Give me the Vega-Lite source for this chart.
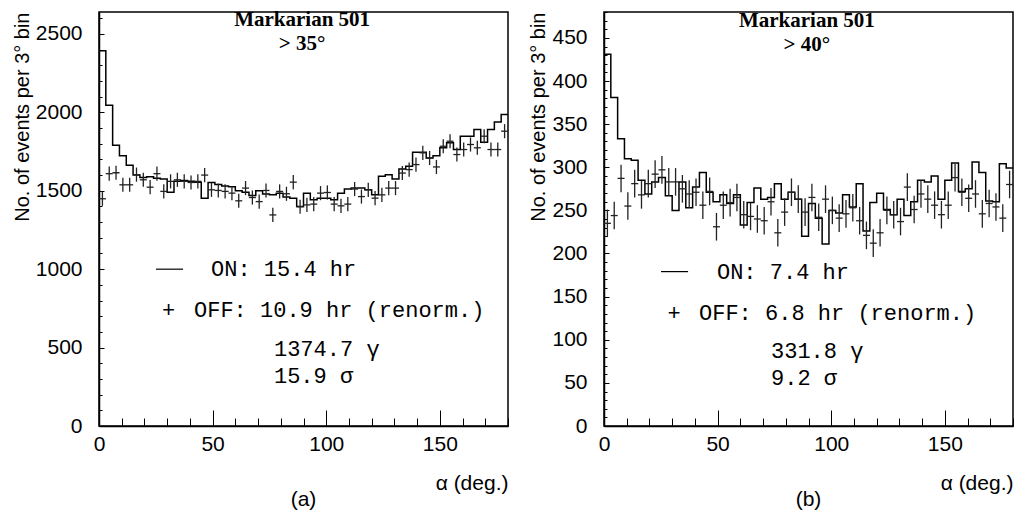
{
  "$schema": "https://vega.github.io/schema/vega-lite/v6.json",
  "background": "white",
  "padding": {"left": 11, "top": 0, "right": 0, "bottom": 0},
  "spacing": 16,
  "datasets": {
    "onA": [
      {"a":0,"v":2393},{"a":3,"v":2045},{"a":6,"v":1790},{"a":9,"v":1724},{"a":12,"v":1662},{"a":15,"v":1600},{"a":18,"v":1585},{"a":21,"v":1590},{"a":24,"v":1580},{"a":27,"v":1575},
      {"a":30,"v":1490},{"a":33,"v":1560},{"a":36,"v":1565},{"a":39,"v":1560},{"a":42,"v":1555},{"a":45,"v":1453},{"a":48,"v":1553},{"a":51,"v":1540},{"a":54,"v":1530},{"a":57,"v":1525},
      {"a":60,"v":1500},{"a":63,"v":1490},{"a":66,"v":1470},{"a":69,"v":1500},{"a":72,"v":1480},{"a":75,"v":1475},{"a":78,"v":1485},{"a":81,"v":1460},{"a":84,"v":1453},{"a":87,"v":1400},
      {"a":90,"v":1485},{"a":93,"v":1442},{"a":96,"v":1453},{"a":99,"v":1453},{"a":102,"v":1442},{"a":105,"v":1485},{"a":108,"v":1511},{"a":111,"v":1517},{"a":114,"v":1517},{"a":117,"v":1506},
      {"a":120,"v":1474},{"a":123,"v":1592},{"a":126,"v":1602},{"a":129,"v":1575},{"a":132,"v":1639},{"a":135,"v":1656},{"a":138,"v":1746},{"a":141,"v":1746},{"a":144,"v":1709},{"a":147,"v":1724},
      {"a":150,"v":1774},{"a":153,"v":1806},{"a":156,"v":1763},{"a":159,"v":1848},{"a":162,"v":1848},{"a":165,"v":1891},{"a":168,"v":1810},{"a":171,"v":1891},{"a":174,"v":1938},{"a":177,"v":1987},
      {"a":180,"v":1987}
    ],
    "offA": [
      {"a":1.5,"v":1449,"e":45},{"a":4.5,"v":1609,"e":45},{"a":7.5,"v":1615,"e":45},{"a":10.5,"v":1538,"e":45},{"a":13.5,"v":1538,"e":45},{"a":16.5,"v":1603,"e":45},{"a":19.5,"v":1570,"e":45},{"a":22.5,"v":1523,"e":45},{"a":25.5,"v":1609,"e":45},{"a":28.5,"v":1496,"e":45},
      {"a":31.5,"v":1560,"e":45},{"a":34.5,"v":1570,"e":45},{"a":37.5,"v":1560,"e":45},{"a":40.5,"v":1553,"e":45},{"a":43.5,"v":1560,"e":45},{"a":46.5,"v":1600,"e":45},{"a":49.5,"v":1506,"e":45},{"a":52.5,"v":1502,"e":45},{"a":55.5,"v":1496,"e":45},{"a":58.5,"v":1485,"e":45},
      {"a":61.5,"v":1436,"e":45},{"a":64.5,"v":1517,"e":45},{"a":67.5,"v":1457,"e":45},{"a":70.5,"v":1431,"e":45},{"a":73.5,"v":1502,"e":45},{"a":76.5,"v":1346,"e":45},{"a":79.5,"v":1496,"e":45},{"a":82.5,"v":1481,"e":45},{"a":85.5,"v":1555,"e":45},{"a":88.5,"v":1398,"e":45},
      {"a":91.5,"v":1410,"e":45},{"a":94.5,"v":1415,"e":45},{"a":97.5,"v":1485,"e":45},{"a":100.5,"v":1489,"e":45},{"a":103.5,"v":1415,"e":45},{"a":106.5,"v":1404,"e":45},{"a":109.5,"v":1415,"e":45},{"a":112.5,"v":1511,"e":45},{"a":115.5,"v":1463,"e":45},{"a":118.5,"v":1506,"e":45},
      {"a":121.5,"v":1453,"e":45},{"a":124.5,"v":1474,"e":45},{"a":127.5,"v":1517,"e":45},{"a":130.5,"v":1517,"e":45},{"a":133.5,"v":1613,"e":45},{"a":136.5,"v":1635,"e":45},{"a":139.5,"v":1667,"e":45},{"a":142.5,"v":1742,"e":45},{"a":145.5,"v":1709,"e":45},{"a":148.5,"v":1652,"e":45},
      {"a":151.5,"v":1784,"e":45},{"a":154.5,"v":1816,"e":45},{"a":157.5,"v":1731,"e":45},{"a":160.5,"v":1763,"e":45},{"a":163.5,"v":1795,"e":45},{"a":166.5,"v":1774,"e":45},{"a":169.5,"v":1848,"e":45},{"a":172.5,"v":1763,"e":45},{"a":175.5,"v":1763,"e":45},{"a":178.5,"v":1880,"e":45}
    ],
    "onB": [
      {"a":0,"v":431},{"a":3,"v":381},{"a":6,"v":333},{"a":9,"v":310},{"a":12,"v":308},{"a":15,"v":285},{"a":18,"v":269},{"a":21,"v":283},{"a":24,"v":288},{"a":27,"v":267},
      {"a":30,"v":250},{"a":33,"v":283},{"a":36,"v":253},{"a":39,"v":277},{"a":42,"v":294},{"a":45,"v":271},{"a":48,"v":260},{"a":51,"v":268},{"a":54,"v":258},{"a":57,"v":268},
      {"a":60,"v":233},{"a":63,"v":259},{"a":66,"v":276},{"a":69,"v":263},{"a":72,"v":265},{"a":75,"v":281},{"a":78,"v":263},{"a":81,"v":271},{"a":84,"v":263},{"a":87,"v":220},
      {"a":90,"v":258},{"a":93,"v":241},{"a":96,"v":211},{"a":99,"v":250},{"a":102,"v":247},{"a":105,"v":268},{"a":108,"v":254},{"a":111,"v":281},{"a":114,"v":226},{"a":117,"v":259},
      {"a":120,"v":270},{"a":123,"v":251},{"a":126,"v":245},{"a":129,"v":263},{"a":132,"v":244},{"a":135,"v":260},{"a":138,"v":285},{"a":141,"v":283},{"a":144,"v":290},{"a":147,"v":263},
      {"a":150,"v":285},{"a":153,"v":305},{"a":156,"v":272},{"a":159,"v":275},{"a":162,"v":306},{"a":165,"v":294},{"a":168,"v":261},{"a":171,"v":260},{"a":174,"v":304},{"a":177,"v":299},
      {"a":180,"v":299}
    ],
    "offB": [
      {"a":1.5,"v":235,"e":16},{"a":4.5,"v":244,"e":16},{"a":7.5,"v":287,"e":16},{"a":10.5,"v":255,"e":16},{"a":13.5,"v":281,"e":16},{"a":16.5,"v":268,"e":16},{"a":19.5,"v":281,"e":16},{"a":22.5,"v":292,"e":16},{"a":25.5,"v":297,"e":16},{"a":28.5,"v":283,"e":16},
      {"a":31.5,"v":283,"e":16},{"a":34.5,"v":275,"e":16},{"a":37.5,"v":269,"e":16},{"a":40.5,"v":271,"e":16},{"a":43.5,"v":256,"e":16},{"a":46.5,"v":272,"e":16},{"a":49.5,"v":231,"e":16},{"a":52.5,"v":256,"e":16},{"a":55.5,"v":259,"e":16},{"a":58.5,"v":265,"e":16},
      {"a":61.5,"v":245,"e":16},{"a":64.5,"v":243,"e":16},{"a":67.5,"v":240,"e":16},{"a":70.5,"v":238,"e":16},{"a":73.5,"v":260,"e":16},{"a":76.5,"v":224,"e":16},{"a":79.5,"v":248,"e":16},{"a":82.5,"v":271,"e":16},{"a":85.5,"v":263,"e":16},{"a":88.5,"v":248,"e":16},
      {"a":91.5,"v":265,"e":16},{"a":94.5,"v":242,"e":16},{"a":97.5,"v":263,"e":16},{"a":100.5,"v":250,"e":16},{"a":103.5,"v":241,"e":16},{"a":106.5,"v":246,"e":16},{"a":109.5,"v":253,"e":16},{"a":112.5,"v":238,"e":16},{"a":115.5,"v":221,"e":16},{"a":118.5,"v":212,"e":16},
      {"a":121.5,"v":224,"e":16},{"a":124.5,"v":250,"e":16},{"a":127.5,"v":245,"e":16},{"a":130.5,"v":237,"e":16},{"a":133.5,"v":277,"e":16},{"a":136.5,"v":251,"e":16},{"a":139.5,"v":269,"e":16},{"a":142.5,"v":263,"e":16},{"a":145.5,"v":256,"e":16},{"a":148.5,"v":245,"e":16},
      {"a":151.5,"v":256,"e":16},{"a":154.5,"v":288,"e":16},{"a":157.5,"v":271,"e":16},{"a":160.5,"v":264,"e":16},{"a":163.5,"v":269,"e":16},{"a":166.5,"v":246,"e":16},{"a":169.5,"v":258,"e":16},{"a":172.5,"v":254,"e":16},{"a":175.5,"v":241,"e":16},{"a":178.5,"v":280,"e":16}
    ]
  },
  "hconcat": [
    {
      "width": 409,
      "height": 414,
      "title": {"text": "(a)", "orient": "bottom", "anchor": "middle", "offset": -4},
      "layer": [
        {
          "data": {"name": "onA"},
          "mark": {"type": "line", "interpolate": "step-after", "color": "black", "strokeWidth": 1.5},
          "encoding": {
            "x": {"field": "a", "type": "quantitative", "title": "α (deg.)", "scale": {"domain": [0, 180], "nice": false},
              "axis": {"values": [0,10,20,30,40,50,60,70,80,90,100,110,120,130,140,150,160,170,180], "tickCount": 1000, "format": "d", "labelOverlap": false,
                "labelExpr": "datum.value % 50 === 0 ? datum.label : ''",
                "tickSize": {"condition": {"test": "datum.value % 50 === 0", "value": -16}, "value": -8},
                "labelPadding": 23, "titlePadding": 10}},
            "y": {"field": "v", "type": "quantitative", "title": "No. of events per 3° bin", "scale": {"domain": [0, 2640], "nice": false},
              "axis": {"values": [0,100,200,300,400,500,600,700,800,900,1000,1100,1200,1300,1400,1500,1600,1700,1800,1900,2000,2100,2200,2300,2400,2500,2600], "tickCount": 1000, "format": "d", "labelOverlap": false,
                "labelExpr": "datum.value % 500 === 0 ? datum.label : ''",
                "tickSize": {"condition": {"test": "datum.value % 500 === 0", "value": -5}, "value": -3},
                "labelPadding": 22, "titlePadding": 3, "titleFontSize": 20}}
          }
        },
        {
          "data": {"name": "offA"},
          "mark": {"type": "tick", "orient": "horizontal", "size": 7, "thickness": 1.3, "color": "#222", "opacity": 1},
          "encoding": {"x": {"field": "a", "type": "quantitative", "title": "α (deg.)"}, "y": {"field": "v", "type": "quantitative", "title": "No. of events per 3° bin"}}
        },
        {
          "data": {"name": "offA"},
          "mark": {"type": "errorbar", "color": "#222", "thickness": 1.3},
          "encoding": {"x": {"field": "a", "type": "quantitative", "title": "α (deg.)"}, "y": {"field": "v", "type": "quantitative", "title": "No. of events per 3° bin"}, "yError": {"field": "e"}}
        },
        {
          "data": {"values": [{"a": 89.4, "v": 2592, "t": "Markarian 501"}, {"a": 89.4, "v": 2439, "t": "> 35°"}]},
          "mark": {"type": "text", "font": "Liberation Serif", "fontWeight": "bold", "fontSize": 21, "align": "center", "baseline": "middle", "color": "black"},
          "encoding": {"x": {"field": "a", "type": "quantitative", "title": "α (deg.)"}, "y": {"field": "v", "type": "quantitative", "title": "No. of events per 3° bin"}, "text": {"field": "t"}}
        },
        {
          "data": {"values": [{"a": 25.1, "a2": 37.0, "v": 1000}]},
          "mark": {"type": "rule", "color": "black", "strokeWidth": 1.2},
          "encoding": {"x": {"field": "a", "type": "quantitative", "title": "α (deg.)"}, "x2": {"field": "a2"}, "y": {"field": "v", "type": "quantitative", "title": "No. of events per 3° bin"}}
        },
        {
          "data": {"values": [{"a": 30.6, "v": 738, "t": "+"}]},
          "mark": {"type": "text", "font": "Liberation Mono", "fontSize": 22, "align": "center", "baseline": "middle", "color": "black"},
          "encoding": {"x": {"field": "a", "type": "quantitative", "title": "α (deg.)"}, "y": {"field": "v", "type": "quantitative", "title": "No. of events per 3° bin"}, "text": {"field": "t"}}
        },
        {
          "data": {"values": [
            {"a": 49.3, "v": 1000, "t": "ON: 15.4 hr"},
            {"a": 41.8, "v": 738, "t": "OFF: 10.9 hr (renorm.)"},
            {"a": 77.0, "v": 490, "t": "1374.7 γ"},
            {"a": 77.0, "v": 318, "t": "15.9 σ"}
          ]},
          "mark": {"type": "text", "font": "Liberation Mono", "fontSize": 22, "align": "left", "baseline": "middle", "color": "black"},
          "encoding": {"x": {"field": "a", "type": "quantitative", "title": "α (deg.)"}, "y": {"field": "v", "type": "quantitative", "title": "No. of events per 3° bin"}, "text": {"field": "t"}}
        }
      ]
    },
    {
      "width": 409,
      "height": 414,
      "title": {"text": "(b)", "orient": "bottom", "anchor": "middle", "offset": -4},
      "layer": [
        {
          "data": {"name": "onB"},
          "mark": {"type": "line", "interpolate": "step-after", "color": "black", "strokeWidth": 1.5},
          "encoding": {
            "x": {"field": "a", "type": "quantitative", "title": "α (deg.)", "scale": {"domain": [0, 180], "nice": false},
              "axis": {"values": [0,10,20,30,40,50,60,70,80,90,100,110,120,130,140,150,160,170,180], "tickCount": 1000, "format": "d", "labelOverlap": false,
                "labelExpr": "datum.value % 50 === 0 ? datum.label : ''",
                "tickSize": {"condition": {"test": "datum.value % 50 === 0", "value": -16}, "value": -8},
                "labelPadding": 23, "titlePadding": 10}},
            "y": {"field": "v", "type": "quantitative", "title": "No. of events per 3° bin", "scale": {"domain": [0, 480], "nice": false},
              "axis": {"values": [0,10,20,30,40,50,60,70,80,90,100,110,120,130,140,150,160,170,180,190,200,210,220,230,240,250,260,270,280,290,300,310,320,330,340,350,360,370,380,390,400,410,420,430,440,450,460,470,480], "tickCount": 1000, "format": "d", "labelOverlap": false,
                "labelExpr": "datum.value % 50 === 0 ? datum.label : ''",
                "tickSize": {"condition": {"test": "datum.value % 50 === 0", "value": -5}, "value": -3},
                "labelPadding": 22, "titlePadding": 3, "titleFontSize": 20}}
          }
        },
        {
          "data": {"name": "offB"},
          "mark": {"type": "tick", "orient": "horizontal", "size": 7, "thickness": 1.3, "color": "#222", "opacity": 1},
          "encoding": {"x": {"field": "a", "type": "quantitative", "title": "α (deg.)"}, "y": {"field": "v", "type": "quantitative", "title": "No. of events per 3° bin"}}
        },
        {
          "data": {"name": "offB"},
          "mark": {"type": "errorbar", "color": "#222", "thickness": 1.3},
          "encoding": {"x": {"field": "a", "type": "quantitative", "title": "α (deg.)"}, "y": {"field": "v", "type": "quantitative", "title": "No. of events per 3° bin"}, "yError": {"field": "e"}}
        },
        {
          "data": {"values": [{"a": 89.3, "v": 469.6, "t": "Markarian 501"}, {"a": 89.3, "v": 442, "t": "> 40°"}]},
          "mark": {"type": "text", "font": "Liberation Serif", "fontWeight": "bold", "fontSize": 21, "align": "center", "baseline": "middle", "color": "black"},
          "encoding": {"x": {"field": "a", "type": "quantitative", "title": "α (deg.)"}, "y": {"field": "v", "type": "quantitative", "title": "No. of events per 3° bin"}, "text": {"field": "t"}}
        },
        {
          "data": {"values": [{"a": 25.1, "a2": 37.0, "v": 179}]},
          "mark": {"type": "rule", "color": "black", "strokeWidth": 1.2},
          "encoding": {"x": {"field": "a", "type": "quantitative", "title": "α (deg.)"}, "x2": {"field": "a2"}, "y": {"field": "v", "type": "quantitative", "title": "No. of events per 3° bin"}}
        },
        {
          "data": {"values": [{"a": 30.8, "v": 131, "t": "+"}]},
          "mark": {"type": "text", "font": "Liberation Mono", "fontSize": 22, "align": "center", "baseline": "middle", "color": "black"},
          "encoding": {"x": {"field": "a", "type": "quantitative", "title": "α (deg.)"}, "y": {"field": "v", "type": "quantitative", "title": "No. of events per 3° bin"}, "text": {"field": "t"}}
        },
        {
          "data": {"values": [
            {"a": 49.7, "v": 179, "t": "ON: 7.4 hr"},
            {"a": 41.8, "v": 131, "t": "OFF: 6.8 hr (renorm.)"},
            {"a": 73.5, "v": 86.5, "t": "331.8 γ"},
            {"a": 73.5, "v": 55.4, "t": "9.2 σ"}
          ]},
          "mark": {"type": "text", "font": "Liberation Mono", "fontSize": 22, "align": "left", "baseline": "middle", "color": "black"},
          "encoding": {"x": {"field": "a", "type": "quantitative", "title": "α (deg.)"}, "y": {"field": "v", "type": "quantitative", "title": "No. of events per 3° bin"}, "text": {"field": "t"}}
        }
      ]
    }
  ],
  "config": {
    "view": {"stroke": "black", "strokeWidth": 1.5},
    "axis": {"grid": false, "domainColor": "black", "domainWidth": 1.5, "tickColor": "black", "tickWidth": 1,
      "labelColor": "black", "labelFont": "Liberation Sans", "labelFontSize": 21, "labelOverlap": false, "labelFlush": false,
      "titleFont": "Liberation Sans", "titleFontSize": 21, "titleFontWeight": "normal", "titleColor": "black", "titleAnchor": "end"},
    "title": {"font": "Liberation Sans", "fontSize": 21, "fontWeight": "normal", "color": "black"}
  }
}
